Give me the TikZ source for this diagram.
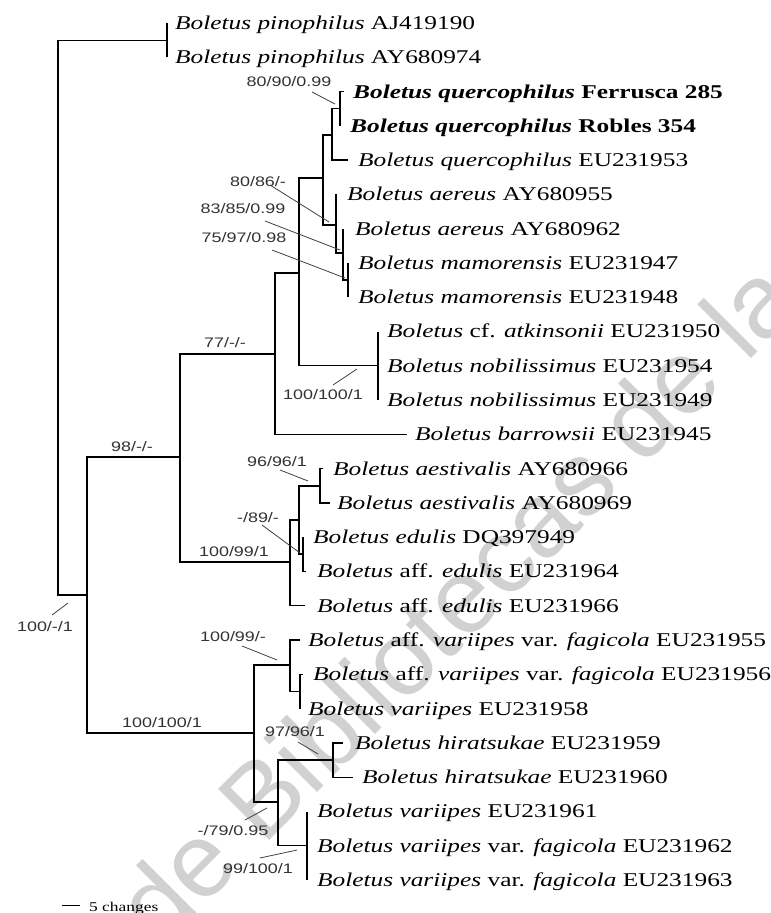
\documentclass[tikz,border=0pt]{standalone}
\usepackage{fontspec}
\setmainfont[FakeStretch=1.3]{Liberation Serif}
\newfontfamily\lblfont[FakeStretch=1.3]{Liberation Sans}
\newfontfamily\wmfont{Liberation Sans}
\newcommand\taxfont{\fontsize{19.5}{22}\selectfont}
\newcommand\supfont{\lblfont\fontsize{13.8}{15}\selectfont}
\begin{document}
\begin{tikzpicture}[x=1pt,y=-1pt,
  br/.style={line width=1.3pt,black},
  tick/.style={line width=0.8pt,black!75},
  taxon/.style={anchor=base west,inner sep=0pt,yshift=-6.4pt,font=\taxfont,text=black},
  supp/.style={inner sep=0pt,font=\supfont,text=black!80},
  wm/.style={anchor=base west,inner sep=0pt,rotate=45,font=\wmfont\fontsize{105}{110}\selectfont,text=black!18}]
\useasboundingbox (0,0) rectangle (771,913);
\fill[white] (0,0) rectangle (771,913);
% watermark
\begin{scope}
\clip (0,0) rectangle (771,913);
\node[wm] (wmk) at (160,950) {de Bibliotecas de la UAQ};
\end{scope}
% internal nodes
\coordinate (root) at (58,318);
\coordinate (P) at (167,40.2);
\coordinate (Q) at (87,595);
\coordinate (A) at (180,457);
\coordinate (B) at (275,354);
\coordinate (C) at (299,273);
\coordinate (F) at (323,178);
\coordinate (G) at (332,135);
\coordinate (H) at (340,108.7);
\coordinate (D1) at (336,225);
\coordinate (D2) at (343,253);
\coordinate (D3) at (348,280);
\coordinate (E) at (378,365.8);
\coordinate (I) at (290,562);
\coordinate (J) at (299,520);
\coordinate (K) at (320,486);
\coordinate (L) at (303,554);
\coordinate (M) at (254,733);
\coordinate (N) at (290,665);
\coordinate (O) at (300,691.5);
\coordinate (R) at (278,802);
\coordinate (S) at (333,760);
\coordinate (T) at (307,845.7);
% leaf tips
\coordinate (t1) at (167,23.0);
\coordinate (t2) at (167,57.3);
\coordinate (t3) at (344,91.6);
\coordinate (t4) at (340,125.8);
\coordinate (t5) at (348,160.1);
\coordinate (t6) at (336,194.4);
\coordinate (t7) at (343,228.7);
\coordinate (t8) at (348,263.0);
\coordinate (t9) at (348,297.2);
\coordinate (t10) at (378,331.5);
\coordinate (t11) at (378,365.8);
\coordinate (t12) at (378,400.1);
\coordinate (t13) at (407,434.4);
\coordinate (t14) at (323,468.6);
\coordinate (t15) at (330,502.9);
\coordinate (t16) at (303,537.2);
\coordinate (t17) at (306,571.5);
\coordinate (t18) at (305,605.8);
\coordinate (t19) at (300,640.1);
\coordinate (t20) at (303,674.3);
\coordinate (t21) at (300,708.6);
\coordinate (t22) at (343,742.9);
\coordinate (t23) at (353,777.2);
\coordinate (t24) at (307,811.5);
\coordinate (t25) at (307,845.7);
\coordinate (t26) at (307,880.0);
% branches
\draw[br] (root) |- (P);
\draw[br] (root) |- (Q);
\draw[br] (P) |- (t1);
\draw[br] (P) |- (t2);
\draw[br] (Q) |- (A);
\draw[br] (Q) |- (M);
\draw[br] (A) |- (B);
\draw[br] (A) |- (I);
\draw[br] (B) |- (C);
\draw[br] (B) |- (t13);
\draw[br] (C) |- (F);
\draw[br] (C) |- (E);
\draw[br] (F) |- (G);
\draw[br] (F) |- (D1);
\draw[br] (G) |- (H);
\draw[br] (G) |- (t5);
\draw[br] (H) |- (t3);
\draw[br] (H) |- (t4);
\draw[br] (D1) |- (t6);
\draw[br] (D1) |- (D2);
\draw[br] (D2) |- (t7);
\draw[br] (D2) |- (D3);
\draw[br] (D3) |- (t8);
\draw[br] (D3) |- (t9);
\draw[br] (E) |- (t10);
\draw[br] (E) |- (t12);
\draw[br] (I) |- (J);
\draw[br] (I) |- (t18);
\draw[br] (J) |- (K);
\draw[br] (J) |- (L);
\draw[br] (K) |- (t14);
\draw[br] (K) |- (t15);
\draw[br] (L) |- (t16);
\draw[br] (L) |- (t17);
\draw[br] (M) |- (N);
\draw[br] (M) |- (R);
\draw[br] (N) |- (t19);
\draw[br] (N) |- (O);
\draw[br] (O) |- (t20);
\draw[br] (O) |- (t21);
\draw[br] (R) |- (S);
\draw[br] (R) |- (T);
\draw[br] (S) |- (t22);
\draw[br] (S) |- (t23);
\draw[br] (T) |- (t24);
\draw[br] (T) |- (t26);
% taxa
\node[taxon] (x1) at (175,23.0) {\textit{Boletus pinophilus} AJ419190};
\node[taxon] (x2) at (175,57.3) {\textit{Boletus pinophilus} AY680974};
\node[taxon] (x3) at (353,91.6) {\textbf{\textit{Boletus quercophilus} Ferrusca 285}};
\node[taxon] (x4) at (350,125.8) {\textbf{\textit{Boletus quercophilus} Robles 354}};
\node[taxon] (x5) at (358,160.1) {\textit{Boletus quercophilus} EU231953};
\node[taxon] (x6) at (347,194.4) {\textit{Boletus aereus} AY680955};
\node[taxon] (x7) at (355,228.7) {\textit{Boletus aereus} AY680962};
\node[taxon] (x8) at (358,263.0) {\textit{Boletus mamorensis} EU231947};
\node[taxon] (x9) at (358,297.2) {\textit{Boletus mamorensis} EU231948};
\node[taxon] (x10) at (387,331.5) {\textit{Boletus} cf. \textit{atkinsonii} EU231950};
\node[taxon] (x11) at (387,365.8) {\textit{Boletus nobilissimus} EU231954};
\node[taxon] (x12) at (387,400.1) {\textit{Boletus nobilissimus} EU231949};
\node[taxon] (x13) at (415,434.4) {\textit{Boletus barrowsii} EU231945};
\node[taxon] (x14) at (333,468.6) {\textit{Boletus aestivalis} AY680966};
\node[taxon] (x15) at (337,502.9) {\textit{Boletus aestivalis} AY680969};
\node[taxon] (x16) at (313,537.2) {\textit{Boletus edulis} DQ397949};
\node[taxon] (x17) at (317,571.5) {\textit{Boletus} aff. \textit{edulis} EU231964};
\node[taxon] (x18) at (317,605.8) {\textit{Boletus} aff. \textit{edulis} EU231966};
\node[taxon] (x19) at (308,640.1) {\textit{Boletus} aff. \textit{variipes} var. \textit{fagicola} EU231955};
\node[taxon] (x20) at (313,674.3) {\textit{Boletus} aff. \textit{variipes} var. \textit{fagicola} EU231956};
\node[taxon] (x21) at (308,708.6) {\textit{Boletus variipes} EU231958};
\node[taxon] (x22) at (355,742.9) {\textit{Boletus hiratsukae} EU231959};
\node[taxon] (x23) at (362,777.2) {\textit{Boletus hiratsukae} EU231960};
\node[taxon] (x24) at (317,811.5) {\textit{Boletus variipes} EU231961};
\node[taxon] (x25) at (317,845.7) {\textit{Boletus variipes} var. \textit{fagicola} EU231962};
\node[taxon] (x26) at (317,880.0) {\textit{Boletus variipes} var. \textit{fagicola} EU231963};
% support values
\node[supp] (s1) at (289,82) {80/90/0.99};
\node[supp] (s2) at (258,182) {80/86/-};
\node[supp] (s3) at (243,209) {83/85/0.99};
\node[supp] (s4) at (244,238) {75/97/0.98};
\node[supp] (s5) at (323,395) {100/100/1};
\node[supp] (s6) at (225,343) {77/-/-};
\node[supp] (s7) at (132,447) {98/-/-};
\node[supp] (s8) at (45,627) {100/-/1};
\node[supp] (s9) at (277,462) {96/96/1};
\node[supp] (s10) at (258,518) {-/89/-};
\node[supp] (s11) at (234,552) {100/99/1};
\node[supp] (s12) at (233,637) {100/99/-};
\node[supp] (s13) at (162,723) {100/100/1};
\node[supp] (s14) at (295,732) {97/96/1};
\node[supp] (s15) at (233,831) {-/79/0.95};
\node[supp] (s16) at (258,869) {99/100/1};
% ticks
\coordinate (k1a) at (312,92);  \coordinate (k1b) at (335,104);
\coordinate (k2a) at (270,185); \coordinate (k2b) at (329,222);
\coordinate (k3a) at (265,221); \coordinate (k3b) at (340,250);
\coordinate (k4a) at (272,250); \coordinate (k4b) at (345,278);
\coordinate (k5a) at (333,385); \coordinate (k5b) at (357,369);
\coordinate (k8a) at (52,615);  \coordinate (k8b) at (68,603);
\coordinate (k9a) at (280,470); \coordinate (k9b) at (308,481);
\coordinate (k10a) at (262,525); \coordinate (k10b) at (300,553);
\coordinate (k12a) at (242,646); \coordinate (k12b) at (277,660);
\coordinate (k14a) at (298,742); \coordinate (k14b) at (318,754);
\coordinate (k15a) at (245,820); \coordinate (k15b) at (267,808);
\coordinate (k16a) at (260,858); \coordinate (k16b) at (297,850);
\foreach \k in {1,2,3,4,5,8,9,10,12,14,15,16}{\draw[tick] (k\k a) -- (k\k b);}
% scale bar
\coordinate (sb1) at (62,905);
\coordinate (sb2) at (80,905);
\draw[line width=0.9pt] (sb1) -- (sb2);
\node[anchor=base west,inner sep=0pt,yshift=-4pt,font=\fontsize{13.4}{15}\selectfont] (sbl) at (89,907) {5 changes};
\end{tikzpicture}
\end{document}
